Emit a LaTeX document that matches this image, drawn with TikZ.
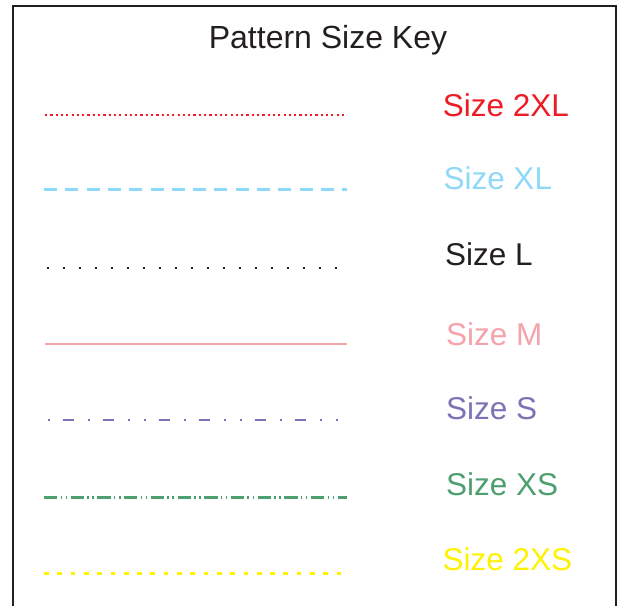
\documentclass[tikz,border=0pt]{standalone}
\usepackage{fontspec}
\setmainfont{Liberation Sans}
\usetikzlibrary{positioning}

\definecolor{xxlred}{HTML}{ED1C24}
\definecolor{xlblue}{HTML}{8ED8F8}
\definecolor{lblack}{HTML}{231F20}
\definecolor{mpink}{HTML}{F5A3AA}
\definecolor{spurple}{HTML}{7A74B6}
\definecolor{xsgreen}{HTML}{4E9F70}
\definecolor{xxsyellow}{HTML}{FFF200}

\begin{document}
\begin{tikzpicture}[%
    x=1pt, y=-1pt,              % Work in pixel-like units, top-down
    line cap=butt,
    ]
% -------------------------------------------------
% Styles for the key
\tikzset{
  frame/.style={draw=lblack, line width=2.3pt},
  title/.style={font=\fontsize{32}{38}\selectfont, text=lblack, inner sep=0pt},
  sizetext/.style={font=\fontsize{31.5}{38}\selectfont, anchor=base west, inner sep=0pt},
  % Line patterns, one per size
  xxlline/.style={draw=xxlred, line width=2pt, dash pattern=on 2.2pt off 3.1pt},
  xlline/.style={draw=xlblue, line width=3pt, dash pattern=on 13pt off 8.3pt},
  lline/.style={draw=lblack, line width=2pt, dash pattern=on 2pt off 14pt},
  mline/.style={draw=mpink, line width=2pt},
  sline/.style={draw=spurple, line width=2pt,
    dash pattern=on 1.4pt off 13.6pt on 11pt off 14pt on 1.4pt off 13.6pt
                 on 11pt off 14pt on 1.4pt off 14.6pt},
  xsline/.style={draw=xsgreen, line width=2.5pt,
    dash pattern=on 13.3pt off 3.2pt on 1.5pt off 3.6pt on 1.5pt off 3.6pt},
  xxsline/.style={draw=xxsyellow, line width=2.5pt, dash pattern=on 4.7pt off 8.6pt},
}
\useasboundingbox (0,0) rectangle (618,606);
% -------------------------------------------------
% Frame, open at the bottom
\draw[frame] (12.8,606) -- (12.8,6) -- (616,6) -- (616,606);
\node[title, anchor=base] (key) at (328,48) {Pattern Size Key};

% Ends of the sample lines
\coordinate (xxla) at (45,115);   \coordinate (xxlb) at (347,115);
\coordinate (xla)  at (44,189.3); \coordinate (xlb)  at (347,189.3);
\coordinate (la)   at (46.7,267.7); \coordinate (lb) at (337,267.7);
\coordinate (ma)   at (45,344);   \coordinate (mb)   at (347,344);
\coordinate (sa)   at (48.3,420.3); \coordinate (sb) at (338,420.3);
\coordinate (xsa)  at (44,497.3); \coordinate (xsb)  at (347,497.3);
\coordinate (xxsa) at (44,573.7); \coordinate (xxsb) at (342,573.7);

% Labels
\node[sizetext, text=xxlred]    (xxl) at (442.7,116.7) {Size 2XL};
\node[sizetext, text=xlblue]    (xl)  at (443.3,189.3) {Size XL};
\node[sizetext, text=lblack]    (l)   at (445,265)     {Size L};
\node[sizetext, text=mpink]     (m)   at (446,345)     {Size M};
\node[sizetext, text=spurple]   (s)   at (446,419.3)   {Size S};
\node[sizetext, text=xsgreen]   (xs)  at (446,495)     {Size XS};
\node[sizetext, text=xxsyellow] (xxs) at (442.3,570)   {Size 2XS};

\draw[xxlline] (xxla) -- (xxlb);
\draw[xlline]  (xla) -- (xlb);
\draw[lline]   (la) -- (lb);
\draw[mline]   (ma) -- (mb);
\draw[sline]   (sa) -- (sb);
\draw[xsline]  (xsa) -- (xsb);
\draw[xxsline] (xxsa) -- (xxsb);

% -------------------------------------------------
\end{tikzpicture}
\end{document}
